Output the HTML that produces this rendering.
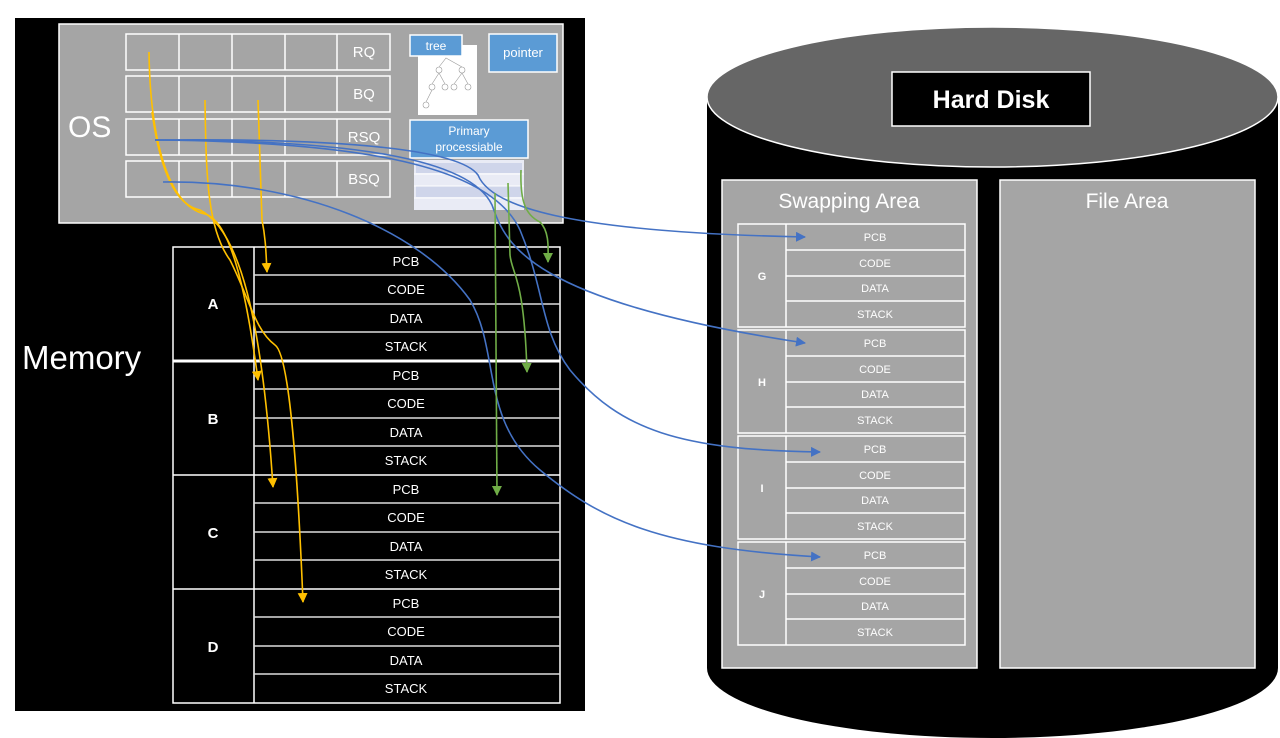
<!DOCTYPE html>
<html><head><meta charset="utf-8"><style>
body{margin:0;background:#fff;}
svg{display:block;font-family:"Liberation Sans",sans-serif;}
</style></head><body>
<svg width="1280" height="738" viewBox="0 0 1280 738" xmlns="http://www.w3.org/2000/svg">
<defs>
<marker id="ab" viewBox="0 0 10 10" refX="9" refY="5" markerWidth="10" markerHeight="10" orient="auto" markerUnits="userSpaceOnUse"><path d="M0,0 L10,5 L0,10 z" fill="#4472c4"/></marker>
<marker id="ag" viewBox="0 0 10 10" refX="9" refY="5" markerWidth="10" markerHeight="10" orient="auto" markerUnits="userSpaceOnUse"><path d="M0,0 L10,5 L0,10 z" fill="#70ad47"/></marker>
<marker id="ay2" viewBox="0 0 10 10" refX="9" refY="5" markerWidth="10" markerHeight="10" orient="auto" markerUnits="userSpaceOnUse"><path d="M0,0 L10,5 L0,10 z" fill="#ffc000"/></marker>
</defs>
<rect x="0" y="0" width="1280" height="738" fill="#fff"/>
<rect x="15" y="18" width="570" height="693" fill="#000"/>
<rect x="59" y="24" width="504" height="199" fill="#a5a5a5" stroke="#fff" stroke-width="1.5"/>
<text x="68" y="137" font-size="30" fill="#fff">OS</text>
<text x="22" y="369" font-size="33" fill="#fff">Memory</text>
<g fill="none" stroke="#fff" stroke-width="1.5">
<g id="qrow">
<rect x="126" y="34" width="264" height="36"/>
<line x1="179" y1="34" x2="179" y2="70"/><line x1="232" y1="34" x2="232" y2="70"/><line x1="285" y1="34" x2="285" y2="70"/><line x1="337" y1="34" x2="337" y2="70"/>
</g>
<use href="#qrow" y="42"/><use href="#qrow" y="85"/><use href="#qrow" y="127"/>
</g>
<g fill="#fff" font-size="15" text-anchor="middle">
<text x="364" y="57">RQ</text><text x="364" y="99">BQ</text><text x="364" y="142">RSQ</text><text x="364" y="184">BSQ</text>
</g>
<rect x="418" y="45" width="59" height="70" fill="#fff"/>
<g fill="none" stroke="#999" stroke-width="0.6">
<circle cx="439" cy="70" r="3"/><circle cx="462" cy="70" r="3"/><circle cx="432" cy="87" r="3"/><circle cx="445" cy="87" r="3"/><circle cx="454" cy="87" r="3"/><circle cx="468" cy="87" r="3"/><circle cx="426" cy="105" r="3"/>
<path d="M439,67 L446,58 L462,67 M439,73 L432,84 M439,73 L445,84 M462,73 L454,84 M462,73 L468,84 M432,90 L426,102"/>
</g>
<rect x="410" y="35" width="52" height="21" fill="#5b9bd5" stroke="#fff" stroke-width="1.5"/>
<text x="436" y="50" font-size="12" fill="#fff" text-anchor="middle">tree</text>
<rect x="489" y="34" width="68" height="38" fill="#5b9bd5" stroke="#fff" stroke-width="1.5"/>
<text x="523" y="57" font-size="13" fill="#fff" text-anchor="middle">pointer</text>
<rect x="410" y="120" width="118" height="38" fill="#5b9bd5" stroke="#fff" stroke-width="1.5"/>
<text x="469" y="135" font-size="12" fill="#fff" text-anchor="middle">Primary</text>
<text x="469" y="151" font-size="12" fill="#fff" text-anchor="middle">processiable</text>
<rect x="414" y="160" width="110" height="50" fill="#e9ebf5"/>
<rect x="416" y="163" width="106" height="10" fill="#cfd5ea"/>
<rect x="416" y="186" width="106" height="11" fill="#cfd5ea"/>
<g stroke="#fff" stroke-width="1"><line x1="414" y1="174" x2="524" y2="174"/><line x1="414" y1="186" x2="524" y2="186"/><line x1="414" y1="198" x2="524" y2="198"/></g>
<g fill="none" stroke="#fff" stroke-width="1.5">
<rect x="173" y="247" width="387" height="456"/>
<line x1="254" y1="247" x2="254" y2="703"/>
<line x1="173" y1="361" x2="560" y2="361" stroke-width="3"/>
<line x1="173" y1="475" x2="560" y2="475"/>
<line x1="173" y1="589" x2="560" y2="589"/>
</g>
<g stroke="#ddd" stroke-width="1.5">
<line x1="254" y1="275" x2="560" y2="275"/><line x1="254" y1="304" x2="560" y2="304"/><line x1="254" y1="332" x2="560" y2="332"/>
<line x1="254" y1="389" x2="560" y2="389"/><line x1="254" y1="418" x2="560" y2="418"/><line x1="254" y1="446" x2="560" y2="446"/>
<line x1="254" y1="503" x2="560" y2="503"/><line x1="254" y1="532" x2="560" y2="532"/><line x1="254" y1="560" x2="560" y2="560"/>
<line x1="254" y1="617" x2="560" y2="617"/><line x1="254" y1="646" x2="560" y2="646"/><line x1="254" y1="674" x2="560" y2="674"/>
</g>
<g fill="#fff" font-size="13" text-anchor="middle">
<text x="406" y="266">PCB</text><text x="406" y="294">CODE</text><text x="406" y="323">DATA</text><text x="406" y="351">STACK</text>
<text x="406" y="380">PCB</text><text x="406" y="408">CODE</text><text x="406" y="437">DATA</text><text x="406" y="465">STACK</text>
<text x="406" y="494">PCB</text><text x="406" y="522">CODE</text><text x="406" y="551">DATA</text><text x="406" y="579">STACK</text>
<text x="406" y="608">PCB</text><text x="406" y="636">CODE</text><text x="406" y="665">DATA</text><text x="406" y="693">STACK</text>
</g>
<g fill="#fff" font-size="15" font-weight="bold" text-anchor="middle">
<text x="213" y="309">A</text><text x="213" y="424">B</text><text x="213" y="538">C</text><text x="213" y="652">D</text>
</g>
<path d="M707,97 L707,668 A285.5,70 0 0 0 1278,668 L1278,97 z" fill="#000"/>
<ellipse cx="992.5" cy="97" rx="285.5" ry="70" fill="#666" stroke="#fff" stroke-width="1.5"/>
<rect x="892" y="72" width="198" height="54" fill="#000" stroke="#fff" stroke-width="1.5"/>
<text x="991" y="108" font-size="25" font-weight="bold" fill="#fff" text-anchor="middle">Hard Disk</text>
<rect x="722" y="180" width="255" height="488" fill="#a5a5a5" stroke="#fff" stroke-width="1.5"/>
<rect x="1000" y="180" width="255" height="488" fill="#a5a5a5" stroke="#fff" stroke-width="1.5"/>
<text x="849" y="208" font-size="21" fill="#fff" text-anchor="middle">Swapping Area</text>
<text x="1127" y="208" font-size="21" fill="#fff" text-anchor="middle">File Area</text>
<g id="sw" fill="none" stroke="#fff" stroke-width="1.5">
<rect x="738" y="224" width="227" height="103"/>
<line x1="786" y1="224" x2="786" y2="327"/>
<line x1="786" y1="250" x2="965" y2="250"/><line x1="786" y1="276" x2="965" y2="276"/><line x1="786" y1="301" x2="965" y2="301"/>
</g>
<use href="#sw" y="106"/><use href="#sw" y="212"/><use href="#sw" y="318"/>
<g fill="#fff" font-size="11" text-anchor="middle">
<text x="875" y="241">PCB</text><text x="875" y="267">CODE</text><text x="875" y="292">DATA</text><text x="875" y="318">STACK</text>
<text x="875" y="347">PCB</text><text x="875" y="373">CODE</text><text x="875" y="398">DATA</text><text x="875" y="424">STACK</text>
<text x="875" y="453">PCB</text><text x="875" y="479">CODE</text><text x="875" y="504">DATA</text><text x="875" y="530">STACK</text>
<text x="875" y="559">PCB</text><text x="875" y="585">CODE</text><text x="875" y="610">DATA</text><text x="875" y="636">STACK</text>
</g>
<g fill="#fff" font-size="11" font-weight="bold" text-anchor="middle">
<text x="762" y="280">G</text><text x="762" y="386">H</text><text x="762" y="492">I</text><text x="762" y="598">J</text>
</g>
<g fill="none" stroke="#ffc000" stroke-width="1.6">
<path d="M149,52 C150,130 165,205 205,214 C235,222 250,320 258,380" marker-end="url(#ay2)"/>
<path d="M152,112 C160,170 175,205 200,210 C240,230 262,320 273,487" marker-end="url(#ay2)"/>
<path d="M205,100 C206,180 208,230 230,260 C250,300 255,330 275,345 C290,355 298,480 303,602" marker-end="url(#ay2)"/>
<path d="M258,100 L262,220 C266,240 266,255 267,272" marker-end="url(#ay2)"/>
</g>
<g fill="none" stroke="#4472c4" stroke-width="1.6">
<path d="M155,140 C350,138 460,150 478,175 C490,205 560,232 805,237" marker-end="url(#ab)"/>
<path d="M155,140 C350,140 470,158 492,205 C505,240 520,300 805,343" marker-end="url(#ab)"/>
<path d="M155,140 C360,142 490,165 520,230 C545,290 540,330 570,370 C620,430 680,450 820,452" marker-end="url(#ab)"/>
<path d="M163,182 C300,180 420,230 470,300 C500,350 480,420 540,470 C600,520 660,548 820,557" marker-end="url(#ab)"/>
</g>
<g fill="none" stroke="#70ad47" stroke-width="1.6">
<path d="M521,170 C520,200 525,215 540,222 C550,232 548,250 548,262" marker-end="url(#ag)"/>
<path d="M508,183 L510,255 C512,275 524,275 527,372" marker-end="url(#ag)"/>
<path d="M495,193 L497,495" marker-end="url(#ag)"/>
</g>
</svg>
</body></html>
